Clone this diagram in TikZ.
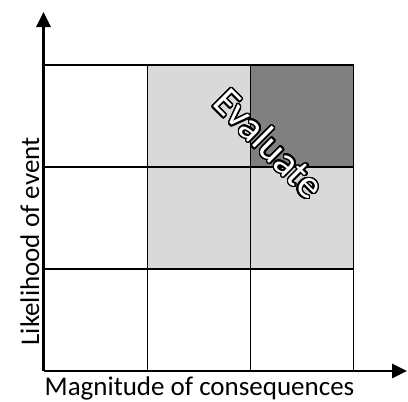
\documentclass[tikz,border=0pt]{standalone}
\usepackage{fontspec}
\setmainfont{Carlito}
\usepackage{contour}
\usetikzlibrary{arrows.meta}
\definecolor{lightcell}{RGB}{217,217,217}
\definecolor{darkcell}{RGB}{128,128,128}
\tikzset{
  cell/.style={draw=none, minimum width=103pt, minimum height=102pt, inner sep=0pt, outer sep=0pt},
  gridline/.style={draw=black, line width=1.8pt},
  axis/.style={line width=2.8pt, -{Triangle[length=15pt,width=14pt]}},
  axislabel/.style={font=\fontsize{27}{30}\selectfont, inner sep=0pt}
}
\contourlength{1.4pt}
\contournumber{32}
\begin{document}
\begin{tikzpicture}[x=1pt,y=1pt]
\useasboundingbox (0,0) rectangle (408,-402);
% columns: 43.5 | 147.5 | 250.5 | 353.5 ; rows: -65 | -167 | -269 | -371
\node[cell] (c11) at (95.5,-116) {};
\node[cell, fill=lightcell] (c12) at (199,-116) {};
\node[cell, fill=darkcell] (c13) at (302,-116) {};
\node[cell] (c21) at (95.5,-218) {};
\node[cell, fill=lightcell] (c22) at (199,-218) {};
\node[cell, fill=lightcell] (c23) at (302,-218) {};
\node[cell] (c31) at (95.5,-320) {};
\node[cell] (c32) at (199,-320) {};
\node[cell] (c33) at (302,-320) {};
\draw[gridline] (c11.north west) -- (c13.north east) -- (c33.south east);
\draw[gridline] (c21.north west) -- (c23.north east);
\draw[gridline] (c31.north west) -- (c33.north east);
\draw[gridline] (c12.north west) -- (c32.south west);
\draw[gridline] (c13.north west) -- (c33.south west);
\coordinate (O) at (43.5,-371);
\coordinate (ytip) at (43.5,-12);
\coordinate (xtip) at (407,-371);
\draw[axis] (O) -- (ytip);
\draw[axis] (O) -- (xtip);
\node[axislabel, anchor=base] (xl) at (199.5,-395) {Magnitude of consequences};
\node[axislabel, rotate=90, anchor=base] (yl) at (39,-241.5) {Likelihood of event};
\node[rotate=-45, font=\fontsize{40}{44}\selectfont, inner sep=0pt] (ev) at (269,-144) {\contour{black}{\textcolor{white}{Evaluate}}};
\end{tikzpicture}
\end{document}
